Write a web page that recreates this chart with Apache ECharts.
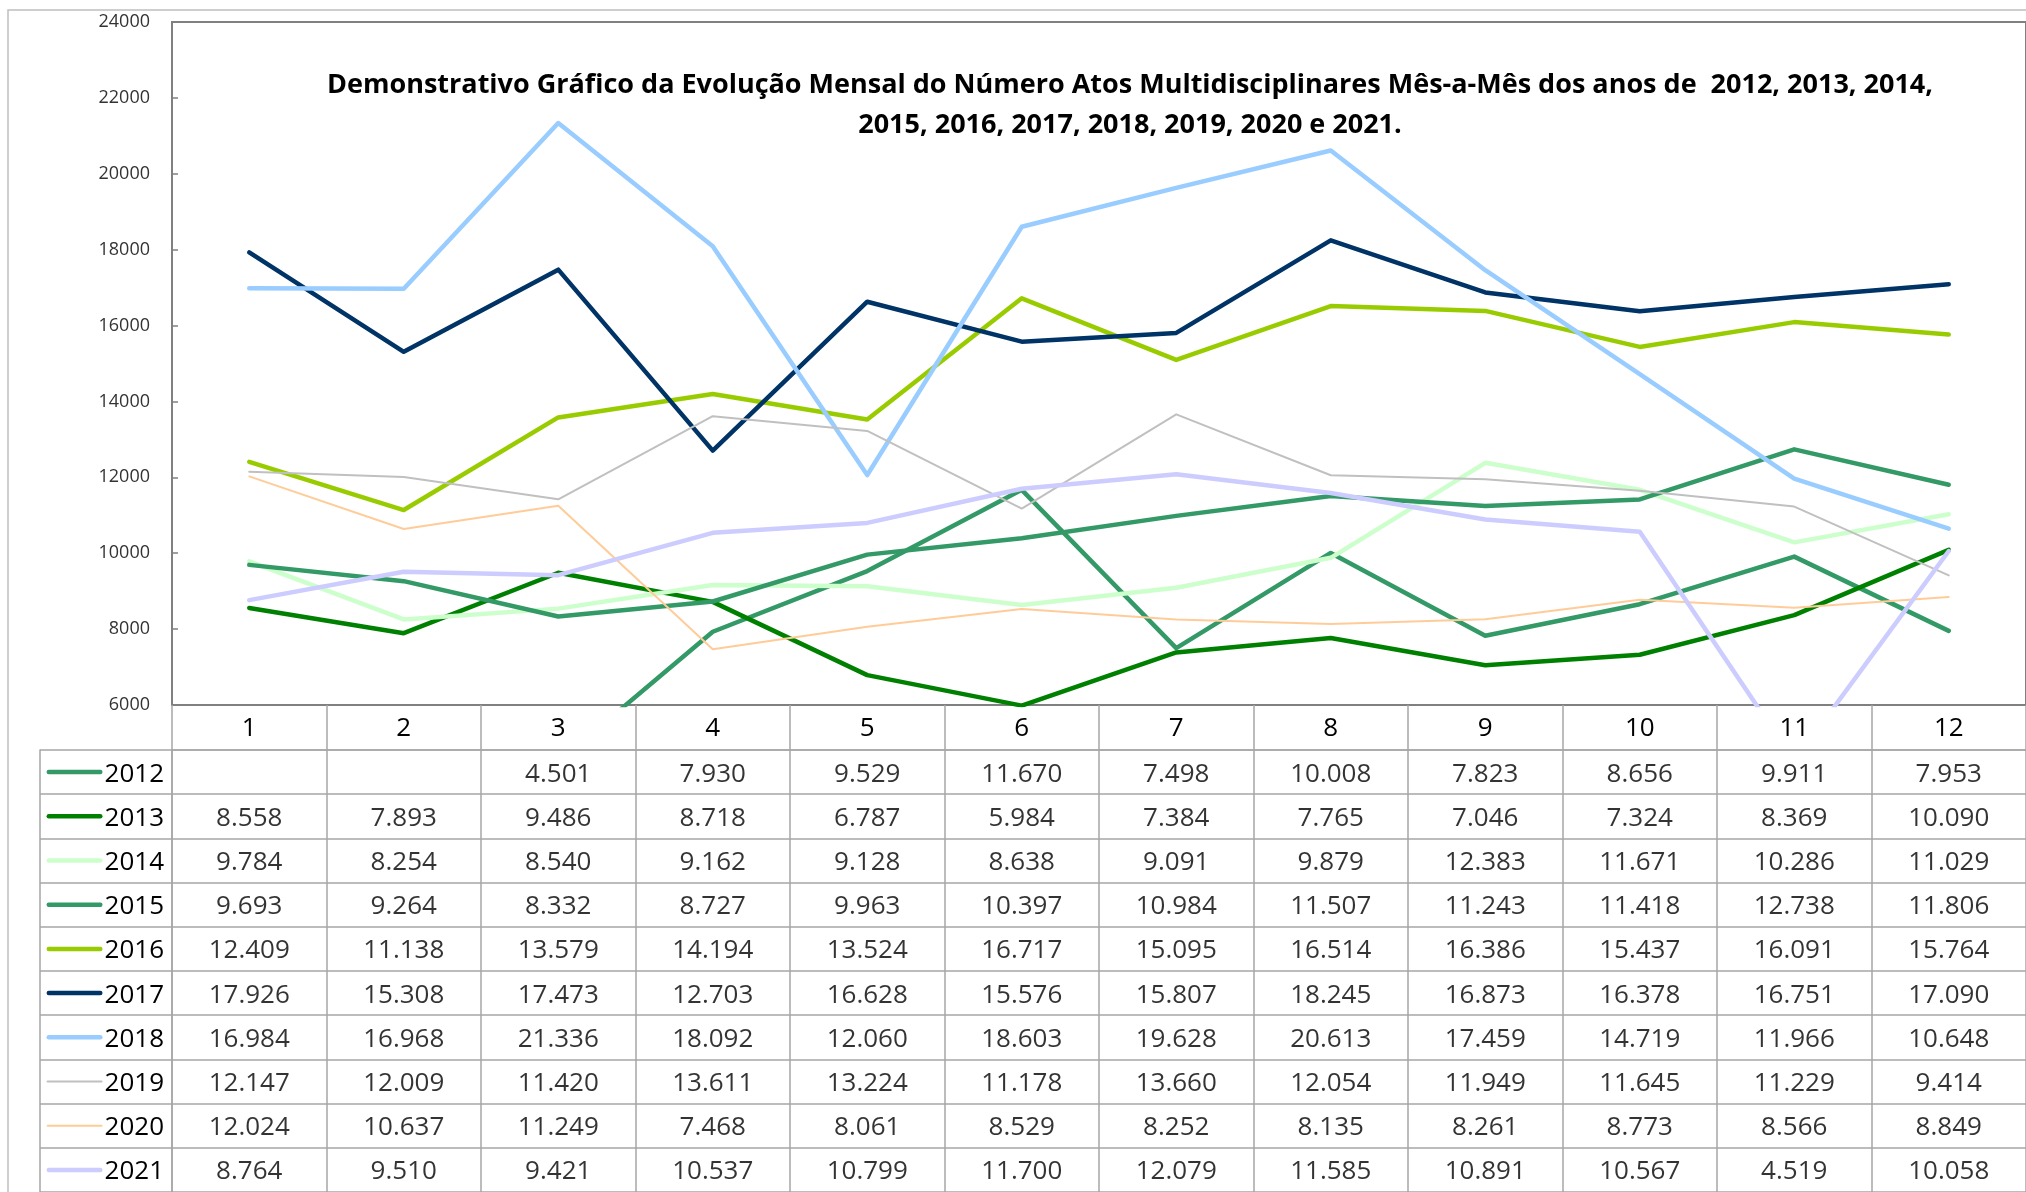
<!DOCTYPE html>
<html>
<head>
<meta charset="utf-8">
<script src="https://cdn.jsdelivr.net/npm/echarts@6/dist/echarts.min.js"></script>
<style>html,body{margin:0;padding:0;background:#fff;}#c{width:2026px;height:1192px;}</style>
</head>
<body>
<div id="c"></div>
<script>
const months = ['1','2','3','4','5','6','7','8','9','10','11','12'];
const years = ['2012','2013','2014','2015','2016','2017','2018','2019','2020','2021'];
const yTicks = [6000, 24000, 2000];
const v2012 = [null, null, 4501, 7930, 9529, 11670, 7498, 10008, 7823, 8656, 9911, 7953];
const v2013 = [8558, 7893, 9486, 8718, 6787, 5984, 7384, 7765, 7046, 7324, 8369, 10090];
const v2014 = [9784, 8254, 8540, 9162, 9128, 8638, 9091, 9879, 12383, 11671, 10286, 11029];
const v2015 = [9693, 9264, 8332, 8727, 9963, 10397, 10984, 11507, 11243, 11418, 12738, 11806];
const v2016 = [12409, 11138, 13579, 14194, 13524, 16717, 15095, 16514, 16386, 15437, 16091, 15764];
const v2017 = [17926, 15308, 17473, 12703, 16628, 15576, 15807, 18245, 16873, 16378, 16751, 17090];
const v2018 = [16984, 16968, 21336, 18092, 12060, 18603, 19628, 20613, 17459, 14719, 11966, 10648];
const v2019 = [12147, 12009, 11420, 13611, 13224, 11178, 13660, 12054, 11949, 11645, 11229, 9414];
const v2020 = [12024, 10637, 11249, 7468, 8061, 8529, 8252, 8135, 8261, 8773, 8566, 8849];
const v2021 = [8764, 9510, 9421, 10537, 10799, 11700, 12079, 11585, 10891, 10567, 4519, 10058];
const allValues = [v2012, v2013, v2014, v2015, v2016, v2017, v2018, v2019, v2020, v2021];
const colors = ['#339966','#008000','#CCFFCC','#339966','#99CC00','#003366','#99CCFF','#C0C0C0','#FFCC99','#CCCCFF'];
const widths = [4.5,4.5,4.5,4.5,4.5,4.5,4.5,2,2,4.5];
const titleLines = ['Demonstrativo Gráfico da Evolução Mensal do Número Atos Multidisciplinares Mês-a-Mês dos anos de  2012, 2013, 2014,',
                    '2015, 2016, 2017, 2018, 2019, 2020 e 2021.'];

const fmt = n => String(n).replace(/\B(?=(\d{3})+(?!\d))/g, '.');
const FONT = '"Open Sans", "Noto Sans", sans-serif';
const gridColor = '#A6A6A6';

const rich = { t: { fontSize: 26, fontFamily: FONT, color: '#000', padding: [4,0,0,2] } };
years.forEach((y, i) => {
  rich['k' + i] = { width: 56, height: widths[i], backgroundColor: colors[i], borderRadius: widths[i] / 2 };
});

const tableData = [];
allValues.forEach((arr, yi) => arr.forEach((v, mi) => { if (v != null) tableData.push([mi, yi, v]); }));

const series = years.map((y, i) => ({
  name: y, type: 'line', xAxisIndex: 0, yAxisIndex: 0,
  data: allValues[i], showSymbol: false, symbol: 'none', connectNulls: false,
  lineStyle: { color: colors[i], width: widths[i], cap: 'round', join: 'round' },
  itemStyle: { color: colors[i] }, silent: true, animation: false
}));
series.push({
  type: 'scatter', xAxisIndex: 1, yAxisIndex: 1, data: tableData,
  symbolSize: 1, itemStyle: { color: 'transparent' }, silent: true, animation: false,
  label: { show: true, position: 'inside', offset: [0, 2], formatter: p => fmt(p.value[2]),
           fontSize: 26, fontFamily: FONT, color: '#000' }
});

const chart = echarts.init(document.getElementById('c'), null, { renderer: 'canvas' });
chart.setOption({
  animation: false,
  backgroundColor: '#fff',
  grid: [
    { left: 172, top: 22, width: 1871, height: 683, show: true, borderColor: '#808080', borderWidth: 2, containLabel: false },
    { left: 172, top: 750, width: 1871, height: 448, containLabel: false }
  ],
  xAxis: [
    { type: 'category', gridIndex: 0, data: months, boundaryGap: true,
      axisLine: { lineStyle: { color: '#808080', width: 2 } }, axisTick: { show: false }, axisLabel: { show: false }, splitLine: { show: false } },
    { type: 'category', gridIndex: 1, data: months, position: 'top', boundaryGap: true,
      axisLine: { show: true, lineStyle: { color: gridColor, width: 1.5 } },
      axisTick: { show: true, length: 45, interval: 0, lineStyle: { color: gridColor, width: 1.5 } },
      axisLabel: { show: true, interval: 0, margin: 6, fontSize: 26, lineHeight: 30, fontFamily: FONT, color: '#000' },
      splitLine: { show: true, interval: 0, lineStyle: { color: gridColor, width: 1.5 } } }
  ],
  yAxis: [
    { type: 'value', gridIndex: 0, min: yTicks[0], max: yTicks[1], interval: yTicks[2],
      axisLine: { show: true, lineStyle: { color: '#808080', width: 2 } },
      axisTick: { show: true, inside: true, length: 6, lineStyle: { color: '#808080', width: 1.5 } },
      axisLabel: { margin: 22, fontSize: 18, fontFamily: FONT, color: '#333', formatter: v => String(v) },
      splitLine: { show: false } },
    { type: 'category', gridIndex: 1, data: years, inverse: true, boundaryGap: true,
      axisLine: { show: true, lineStyle: { color: gridColor, width: 1.5 } },
      axisTick: { show: true, length: 132, interval: 0, lineStyle: { color: gridColor, width: 1.5 } },
      axisLabel: { show: true, interval: 0, margin: 8, formatter: (v, i) => `{k${i}|}{t|${v}}`, rich: rich },
      splitLine: { show: true, interval: 0, lineStyle: { color: gridColor, width: 1.5 } } },
    { type: 'category', gridIndex: 1, data: years, inverse: true, position: 'left', offset: 132,
      axisLine: { show: true, lineStyle: { color: gridColor, width: 1.5 } },
      axisTick: { show: false }, axisLabel: { show: false }, splitLine: { show: false } }
  ],
  graphic: [
    { type: 'rect', shape: { x: 8, y: 10, width: 2100, height: 1300 }, style: { fill: 'none', stroke: '#BFBFBF', lineWidth: 1.5 }, silent: true, z: -1 },
    { type: 'text', x: 1130, y: 105, style: { text: titleLines.join('\n'), textAlign: 'center', textVerticalAlign: 'middle',
      font: 'bold 27px ' + FONT, lineHeight: 40, fill: '#000' }, silent: true }
  ],
  series: series
});
</script>
</body>
</html>
